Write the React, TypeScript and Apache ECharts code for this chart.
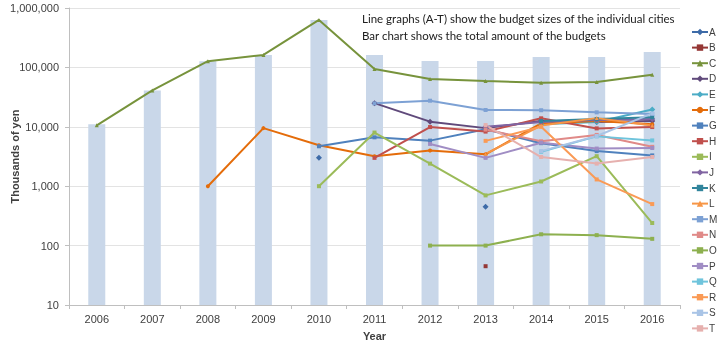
import React, { useEffect, useRef } from "react";
import * as echarts from "echarts";

const years = ["2006", "2007", "2008", "2009", "2010", "2011", "2012", "2013", "2014", "2015", "2016"];
const totals = [11000, 41000, 127000, 162000, 630000, 162000, 128000, 128000, 150000, 150000, 182000];

const _ = null;
const cityA = [_, _, _, _, 3000, _, _, 450, _, _, _];
const cityB = [_, _, _, _, _, _, _, 45, _, _, _];
const cityC = [10600, 41000, 127000, 162000, 630000, 94000, 64000, 59000, 55000, 57000, 75000];
const cityD = [_, _, _, _, _, 25000, 12200, 9500, 12500, 12000, 12500];
const cityE = [_, _, _, _, _, _, _, _, 11000, 12000, 19500];
const cityF = [_, _, 1000, 9500, 4900, 3200, 4000, 3450, 11400, 12500, 11000];
const cityG = [_, _, _, _, 4700, 6650, 5850, 9100, 5300, 3900, 3300];
const cityH = [_, _, _, _, _, 3000, 9900, 8300, 13900, 9400, 9900];
const cityI = [_, _, _, _, 1000, 8000, 2400, 700, 1200, 3200, 240];
const cityJ = [_, _, _, _, _, _, _, 10000, 12000, 13000, 13500];
const cityK = [_, _, _, _, _, _, _, _, 12500, 13500, 14500];
const cityL = [_, _, _, _, _, _, _, 3500, 10500, 14000, 10500];
const cityM = [_, _, _, _, _, 24800, 27500, 19200, 19000, 17500, 16500];
const cityN = [_, _, _, _, _, _, _, 9000, 5700, 7300, 4600];
const cityO = [_, _, _, _, _, _, 100, 100, 155, 150, 130];
const cityP = [_, _, _, _, _, _, 5150, 3000, 5400, 4300, 4400];
const cityQ = [_, _, _, _, _, _, _, _, 3800, 6900, 5900];
const cityR = [_, _, _, _, _, _, _, 5800, 10000, 1300, 500];
const cityS = [_, _, _, _, _, _, _, _, 3900, 7000, 16800];
const cityT = [_, _, _, _, _, _, _, 10700, 3100, 2400, 3100];

const cityNames = ["A", "B", "C", "D", "E", "F", "G", "H", "I", "J", "K", "L", "M", "N", "O", "P", "Q", "R", "S", "T"];
const cityData = [cityA, cityB, cityC, cityD, cityE, cityF, cityG, cityH, cityI, cityJ, cityK, cityL, cityM, cityN, cityO, cityP, cityQ, cityR, cityS, cityT];
const cityColors = [
  "#3D6BA8", "#953735", "#77933C", "#604A7B", "#4BACC6", "#E46C0A", "#4F81BD", "#C0504D", "#9BBB59", "#8064A2",
  "#31859C", "#F79646", "#7DA1D4", "#E08A88", "#8DB04F", "#A08DC4", "#6FC4DC", "#FA9A55", "#A9C4E6", "#E6B0AE",
];
const cityMarkers = [
  "diamond", "rect", "triangle", "diamond", "diamond", "circle", "rect", "rect", "rect", "diamond",
  "rect", "triangle", "rect", "rect", "rect", "rect", "rect", "rect", "rect", "rect",
];

const noteLines = [
  "Line graphs (A-T) show the budget sizes of the individual cities",
  "Bar chart shows the total amount of the budgets",
];

export default function App() {
  const ref = useRef<HTMLDivElement>(null);
  useEffect(() => {
    if (!ref.current) return;
    const chart = echarts.init(ref.current, undefined, { renderer: "svg" });
    const font = "Liberation Sans, Arial, sans-serif";
    const lineSeries = cityNames.map((name, i) => ({
      name,
      type: "line",
      data: cityData[i],
      symbol: cityMarkers[i],
      symbolSize: cityMarkers[i] === "diamond" ? 6 : 4,
      showSymbol: true,
      showAllSymbol: true,
      connectNulls: false,
      z: 3,
      lineStyle: { width: 2, color: cityColors[i] },
      itemStyle: { color: cityColors[i] },
    }));
    chart.setOption({
      animation: false,
      textStyle: { fontFamily: font },
      grid: { left: 69, right: 41, top: 8, bottom: 38, containLabel: false, outerBoundsMode: "none" },
      legend: {
        orient: "vertical",
        left: 691,
        top: 27,
        height: 316,
        itemWidth: 16,
        itemHeight: 8,
        itemGap: 5.6,
        padding: 0,
        textStyle: { fontSize: 10, lineHeight: 10, color: "#404040", padding: [0, 0, 0, -4] },
        data: cityNames,
      },
      xAxis: {
        type: "category",
        data: years,
        boundaryGap: true,
        name: "Year",
        nameLocation: "middle",
        nameGap: 25,
        nameMoveOverlap: false,
        nameTextStyle: { fontWeight: "bold", fontSize: 11, color: "#404040" },
        axisLine: { lineStyle: { color: "#BFBFBF" } },
        axisTick: { show: true, alignWithLabel: false, length: 4, lineStyle: { color: "#BFBFBF" } },
        axisLabel: { fontSize: 11, color: "#404040", margin: 8 },
        splitLine: { show: false },
      },
      yAxis: {
        type: "log",
        logBase: 10,
        min: 10,
        max: 1000000,
        name: "Thousands of yen",
        nameLocation: "middle",
        nameGap: 49,
        nameMoveOverlap: false,
        nameTextStyle: { fontWeight: "bold", fontSize: 11, color: "#404040" },
        axisLine: { show: true, lineStyle: { color: "#BFBFBF" } },
        axisTick: { show: true, length: 4, lineStyle: { color: "#BFBFBF" } },
        axisLabel: {
          fontSize: 11,
          color: "#404040",
          margin: 10,
          formatter: (v: number) => Math.round(v).toLocaleString("en-US"),
        },
        splitLine: { show: true, lineStyle: { color: "#E3E3E3" } },
      },
      graphic: noteLines.map((t, i) => ({
        type: "text",
        left: 362,
        top: 12 + i * 17,
        style: { text: t, fontSize: 11.5, fontFamily: "Lato, sans-serif", fill: "#202020" },
      })),
      series: [
        {
          name: "Total",
          type: "bar",
          data: totals,
          barWidth: 17,
          clip: true,
          z: 1,
          itemStyle: { color: "#C9D7E9" },
        },
        ...lineSeries,
      ],
    });
    return () => chart.dispose();
  }, []);
  return <div ref={ref} style={{ position: "fixed", left: 0, top: 0, width: 721, height: 343 }} />;
}
